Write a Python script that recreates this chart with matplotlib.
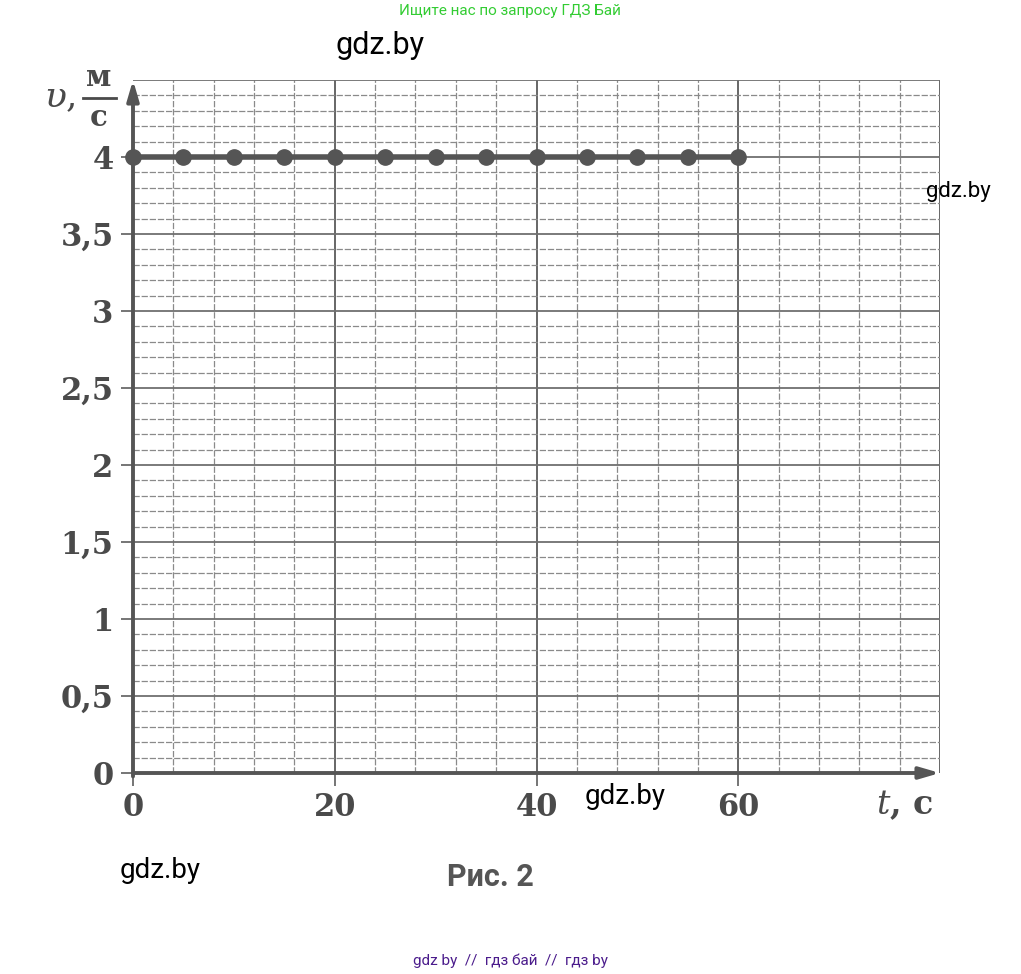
import numpy as np
import matplotlib.pyplot as plt

plt.rcParams['mathtext.fontset'] = 'dejavuserif'

# данные графика
t = [0, 5, 10, 15, 20, 25, 30, 35, 40, 45, 50, 55, 60]
v = [4, 4, 4, 4, 4, 4, 4, 4, 4, 4, 4, 4, 4]
x_ticks = [0, 20, 40, 60]
y_ticks = [0, 0.5, 1, 1.5, 2, 2.5, 3, 3.5, 4]
y_labels = ['0', '0,5', '1', '1,5', '2', '2,5', '3', '3,5', '4']

ink = '#4a4a4a'
grid_col = '#8a8a8a'

fig = plt.figure(figsize=(10.21, 9.74), dpi=100)
ax = fig.add_axes([133/1021, 201/974, 807/1021, 693/974])
ax.set_xlim(0, 80)
ax.set_ylim(0, 4.5)

# сетка
for x in np.arange(4, 81, 4):
    if x % 20 == 0:
        ax.axvline(x, color='#666666', lw=1.4, zorder=1)
    else:
        ax.axvline(x, color=grid_col, lw=0.9, ls=(0, (5, 1.5)), zorder=1)
for k in range(1, 46):
    y = k / 10
    if k % 5 == 0:
        ax.axhline(y, color='#707070', lw=1.3, zorder=1)
    else:
        ax.axhline(y, color=grid_col, lw=0.9, ls=(0, (5, 1.5)), zorder=1)

for s in ax.spines.values():
    s.set_visible(False)

ax.set_xticks(x_ticks)
ax.set_xticklabels([str(x) for x in x_ticks])
ax.set_yticks(y_ticks)
ax.set_yticklabels(y_labels)
ax.tick_params(axis='both', length=9, width=1.3, color='#6a6a6a', labelcolor=ink,
               labelsize=22)
ax.tick_params(axis='x', pad=5)
ax.tick_params(axis='y', pad=5)
for lbl in ax.get_xticklabels() + ax.get_yticklabels():
    lbl.set_family('DejaVu Serif')
    lbl.set_weight('bold')

# оси со стрелками
ax.annotate('', xy=(1.0, 0), xytext=(0, 0), xycoords='axes fraction',
            arrowprops=dict(arrowstyle='-|>,head_length=1.2,head_width=0.35',
                            color='#555555', lw=2.8, shrinkA=0, shrinkB=0), zorder=3)
ax.annotate('', xy=(0, 1.0), xytext=(0, -0.005), xycoords='axes fraction',
            arrowprops=dict(arrowstyle='-|>,head_length=1.2,head_width=0.35',
                            color='#555555', lw=2.8, shrinkA=0, shrinkB=0), zorder=3)

# график
ax.plot(t, v, color='#555555', lw=4, marker='o', markersize=11, zorder=4, clip_on=False)

# подписи осей
fig.text(905/1021, 1 - 805/974, r'$t$, c', fontsize=24, family='DejaVu Serif',
         color=ink, ha='center', va='center', weight='bold')
fig.text(60/1021, 1 - 97/974, r'$\upsilon$,', fontsize=26, family='DejaVu Serif',
         color=ink, ha='center', va='center')
fig.text(99/1021, 1 - 77/974, 'м', fontsize=21, family='DejaVu Serif',
         color=ink, ha='center', va='center', weight='bold')
fig.text(99/1021, 1 - 118/974, 'с', fontsize=21, family='DejaVu Serif',
         color=ink, ha='center', va='center', weight='bold')
fig.add_artist(plt.Line2D([83/1021, 116/1021], [1 - 98/974, 1 - 98/974],
                          color=ink, lw=2))

fig.text(490/1021, 1 - 877/974, 'Рис. 2', fontsize=22, family='Roboto',
         color='#555555', ha='center', va='center', weight='bold')

# водяные знаки
for (wx, wy, fs) in [(380, 45, 22), (958, 192, 16), (625, 797, 20), (160, 870, 20)]:
    fig.text(wx/1021, 1 - wy/974, 'gdz.by', fontsize=fs, family='Roboto',
             color='black', ha='center', va='center')

fig.text(510/1021, 1 - 11/974, 'Ищите нас по запросу ГДЗ Бай', fontsize=11,
         family='Roboto', color='#33cc33', ha='center', va='center')
fig.text(510/1021, 1 - 961/974, 'gdz by  //  гдз бай  //  гдз by', fontsize=11,
         family='Roboto', color='#4b1c8c', ha='center', va='center')

fig.savefig('out.png', dpi=100)
